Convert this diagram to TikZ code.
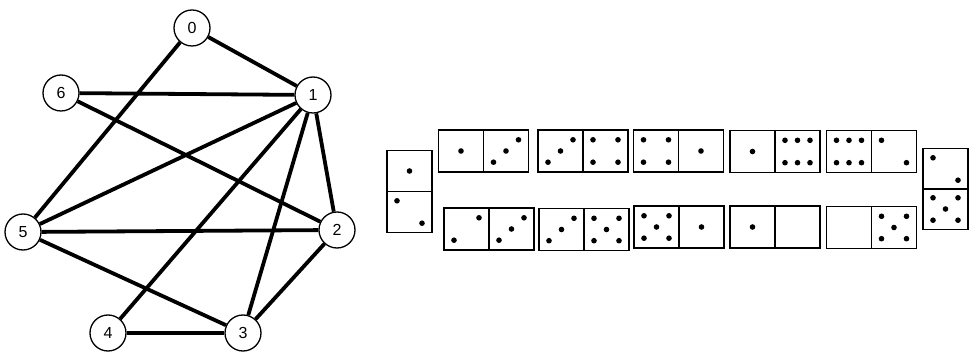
\documentclass[tikz,border=0pt]{standalone}
\usepackage{fontspec}
\setmainfont{Liberation Sans}
\begin{document}
\begin{tikzpicture}[x=1pt,y=-1pt,
  vertex/.style={circle,draw,line width=1.3pt,minimum size=36pt,inner sep=0pt,
    fill=white,font=\fontsize{16}{16}\selectfont},
  edge/.style={line width=3.8pt},
  half/.style={rectangle,draw,line width=1.7pt,minimum width=45pt,minimum height=42pt,inner sep=0pt},
  vhalf/.style={half,minimum height=41pt}]
\useasboundingbox (0,0) rectangle (975,355);

% graph on seven vertices
\node[vertex] (v0) at (192,28) {0};
\node[vertex] (v1) at (313,95) {1};
\node[vertex] (v2) at (337,230) {2};
\node[vertex] (v3) at (243,333) {3};
\node[vertex] (v4) at (108,333) {4};
\node[vertex] (v5) at (23,232) {5};
\node[vertex] (v6) at (61,93) {6};
\foreach \a/\b in {v0/v1,v0/v5,v6/v1,v6/v2,v1/v5,v1/v4,v1/v3,v1/v2,v5/v2,v5/v3,v2/v3,v4/v3}
  \draw[edge] (\a) -- (\b);

% pip patterns, offsets in units of one pip step
\def\pone{0/0}
\def\ptwoA{-1/-1,1/1}
\def\ptwoB{1/-1,-1/1}
\def\pthree{-1/1,0/0,1/-1}
\def\pfour{-1/-1,1/-1,-1/1,1/1}
\def\pfive{-1/-1,1/-1,-1/1,1/1,0/0}
\def\psix{-1/-1,0/-1,1/-1,-1/1,0/1,1/1}
\newcommand\pips[2]{%
  \foreach \dx/\dy in #2
    \fill ([shift={(\dx*12.5,\dy*11.2)}]#1.center) circle (2.8);}

% top row of dominoes
\node[half] (t1a) at (461,151) {};   \node[half] (t1b) at (506,151) {};
\node[half] (t2a) at (560.5,151) {}; \node[half] (t2b) at (605.5,151) {};
\node[half] (t3a) at (656,151) {};   \node[half] (t3b) at (701,151) {};
\node[half] (t4a) at (752.5,151.5) {}; \node[half] (t4b) at (797.5,151.5) {};
\node[half] (t5a) at (849,151.5) {}; \node[half] (t5b) at (894,151.5) {};
\pips{t1a}{\pone}  \pips{t1b}{\pthree}
\pips{t2a}{\pthree}\pips{t2b}{\pfour}
\pips{t3a}{\pfour} \pips{t3b}{\pone}
\pips{t4a}{\pone}  \pips{t4b}{\psix}
\pips{t5a}{\psix}  \pips{t5b}{\ptwoA}

% bottom row of dominoes
\node[half] (b1a) at (466.5,229) {}; \node[half] (b1b) at (511.5,229) {};
\node[half] (b2a) at (561.5,229.5) {}; \node[half] (b2b) at (606.5,229.5) {};
\node[half] (b3a) at (656.5,227) {}; \node[half] (b3b) at (701.5,227) {};
\node[half] (b4a) at (752.5,227) {}; \node[half] (b4b) at (797.5,227) {};
\node[half] (b5a) at (849,227.5) {}; \node[half] (b5b) at (894,227.5) {};
\pips{b1a}{\ptwoB} \pips{b1b}{\pthree}
\pips{b2a}{\pthree}\pips{b2b}{\pfive}
\pips{b3a}{\pfive} \pips{b3b}{\pone}
\pips{b4a}{\pone}
\pips{b5b}{\pfive}

% upright dominoes at both ends
\node[vhalf] (la) at (409.5,171) {}; \node[vhalf] (lb) at (409.5,212) {};
\node[vhalf] (ra) at (945.5,169) {}; \node[vhalf] (rb) at (945.5,209) {};
\pips{la}{\pone}   \pips{lb}{\ptwoA}
\pips{ra}{\ptwoA}  \pips{rb}{\pfive}
\end{tikzpicture}
\end{document}
